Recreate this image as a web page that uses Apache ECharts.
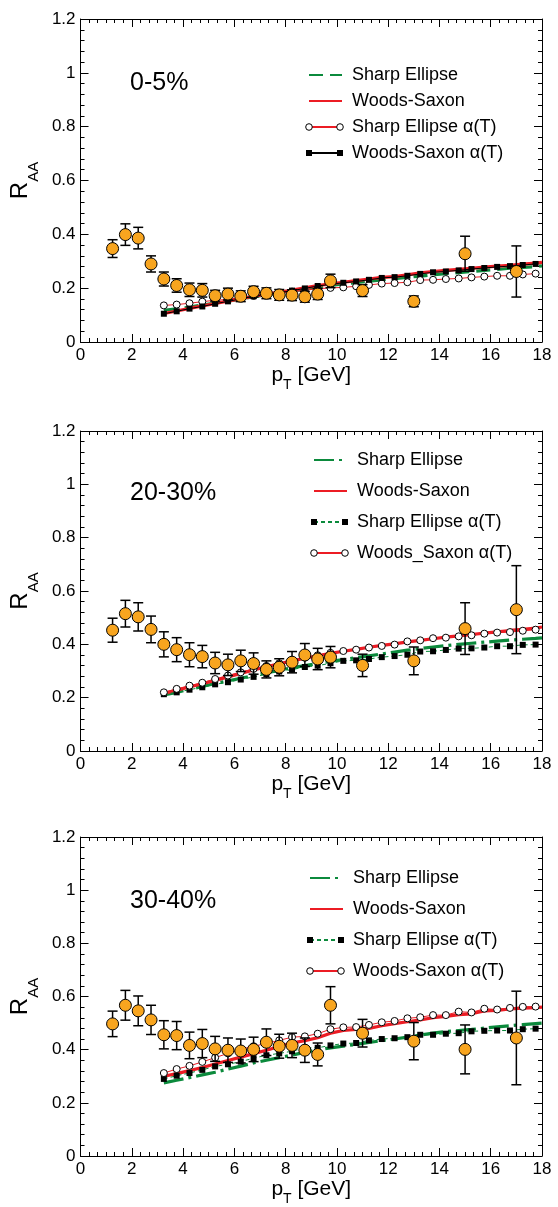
<!DOCTYPE html>
<html><head><meta charset="utf-8">
<script src="https://cdn.jsdelivr.net/npm/echarts@6/dist/echarts.min.js"></script>
<style>html,body{margin:0;padding:0;background:#fff}#c{width:558px;height:1207px}</style>
</head><body><div id="c"></div>
<script>
// ---------- data ----------
const ptData = [1.25,1.75,2.25,2.75,3.25,3.75,4.25,4.75,5.25,5.75,6.25,6.75,7.25,7.75,8.25,8.75,9.25,9.75,11,13,15,17];
const ptModel = [3.25,3.75,4.25,4.75,5.25,5.75,6.25,6.75,7.25,7.75,8.25,8.75,9.25,9.75,10.25,10.75,11.25,11.75,12.25,12.75,13.25,13.75,14.25,14.75,15.25,15.75,16.25,16.75,17.25,17.75];
const ptCurve = [3.25,3.75,4.25,4.75,5.25,5.75,6.25,6.75,7.25,7.75,8.25,8.75,9.25,9.75,10.25,10.75,11.25,11.75,12.25,12.75,13.25,13.75,14.25,14.75,15.25,15.75,16.25,16.75,17.25,17.75,18];
const yTicks = [0,0.2,0.4,0.6,0.8,1,1.2];
const xTicks = [0,2,4,6,8,10,12,14,16,18];

// 0-5%
const raa0005 = [0.347,0.399,0.386,0.29,0.234,0.21,0.194,0.192,0.172,0.178,0.17,0.187,0.181,0.175,0.174,0.168,0.178,0.227,0.191,0.151,0.328,0.262];
const err0005 = [0.033,0.04,0.04,0.03,0.026,0.025,0.025,0.025,0.02,0.022,0.02,0.02,0.02,0.02,0.02,0.02,0.02,0.025,0.022,0.02,0.065,0.095];
const se0005 = [0.118,0.123,0.13,0.137,0.145,0.152,0.16,0.168,0.175,0.182,0.189,0.197,0.204,0.21,0.216,0.221,0.226,0.231,0.235,0.24,0.245,0.25,0.254,0.258,0.262,0.266,0.27,0.274,0.277,0.28,0.283];
const ws0005 = [0.106,0.115,0.125,0.134,0.143,0.152,0.161,0.17,0.178,0.185,0.193,0.201,0.21,0.216,0.222,0.228,0.234,0.24,0.243,0.25,0.257,0.262,0.266,0.27,0.274,0.278,0.282,0.285,0.289,0.293,0.296];
const seAlpha0005 = [0.136,0.139,0.144,0.15,0.155,0.158,0.165,0.171,0.176,0.181,0.187,0.192,0.198,0.201,0.203,0.207,0.212,0.217,0.219,0.222,0.23,0.231,0.234,0.236,0.24,0.243,0.246,0.246,0.251,0.254];
const wsAlpha0005 = [0.105,0.114,0.124,0.132,0.142,0.151,0.16,0.17,0.177,0.183,0.191,0.199,0.208,0.214,0.22,0.225,0.231,0.238,0.241,0.246,0.253,0.259,0.262,0.266,0.271,0.275,0.279,0.282,0.286,0.29];

// 20-30%
const raa2030 = [0.453,0.515,0.503,0.456,0.4,0.38,0.361,0.354,0.33,0.323,0.338,0.328,0.306,0.314,0.333,0.36,0.345,0.352,0.321,0.338,0.459,0.53];
const err2030 = [0.045,0.05,0.053,0.05,0.047,0.045,0.045,0.042,0.04,0.04,0.04,0.04,0.032,0.032,0.04,0.043,0.04,0.04,0.042,0.052,0.097,0.165];
const se2030 = [0.21,0.22,0.231,0.242,0.253,0.263,0.273,0.283,0.293,0.303,0.312,0.32,0.328,0.336,0.343,0.35,0.357,0.364,0.371,0.378,0.384,0.39,0.395,0.4,0.404,0.408,0.412,0.416,0.419,0.422,0.424];
const ws2030 = [0.216,0.228,0.24,0.252,0.265,0.278,0.291,0.304,0.316,0.327,0.338,0.348,0.357,0.366,0.374,0.381,0.389,0.396,0.402,0.409,0.415,0.421,0.427,0.432,0.437,0.442,0.447,0.452,0.456,0.461,0.465];
const seAlpha2030 = [0.213,0.22,0.23,0.239,0.25,0.258,0.268,0.278,0.288,0.298,0.305,0.315,0.32,0.329,0.338,0.34,0.345,0.352,0.356,0.361,0.373,0.374,0.379,0.384,0.385,0.388,0.393,0.393,0.398,0.399];
const wsAlpha2030 = [0.22,0.233,0.245,0.256,0.27,0.283,0.295,0.308,0.319,0.329,0.34,0.35,0.359,0.368,0.375,0.38,0.388,0.394,0.399,0.411,0.415,0.423,0.425,0.43,0.434,0.44,0.444,0.446,0.451,0.455];

// 30-40%
const raa3040 = [0.497,0.567,0.546,0.512,0.456,0.453,0.416,0.423,0.403,0.398,0.395,0.401,0.428,0.413,0.416,0.398,0.382,0.567,0.462,0.432,0.401,0.444];
const err3040 = [0.048,0.056,0.056,0.055,0.053,0.053,0.05,0.053,0.047,0.046,0.045,0.046,0.05,0.045,0.046,0.046,0.043,0.07,0.052,0.07,0.092,0.176];
const se3040 = [0.275,0.285,0.295,0.305,0.315,0.327,0.338,0.35,0.36,0.37,0.38,0.39,0.399,0.407,0.413,0.42,0.427,0.434,0.44,0.447,0.455,0.462,0.468,0.472,0.476,0.481,0.486,0.49,0.494,0.498,0.5];
const ws3040 = [0.3,0.31,0.321,0.333,0.346,0.359,0.372,0.385,0.398,0.412,0.425,0.434,0.445,0.462,0.472,0.476,0.48,0.49,0.498,0.505,0.512,0.52,0.525,0.532,0.535,0.546,0.548,0.553,0.556,0.558,0.56];
const seAlpha3040 = [0.29,0.302,0.312,0.324,0.337,0.345,0.355,0.368,0.379,0.386,0.394,0.407,0.407,0.416,0.423,0.425,0.435,0.44,0.443,0.447,0.456,0.456,0.46,0.462,0.469,0.471,0.472,0.472,0.477,0.479];
const wsAlpha3040 = [0.312,0.327,0.339,0.354,0.37,0.386,0.401,0.413,0.423,0.435,0.447,0.45,0.46,0.477,0.484,0.485,0.493,0.503,0.508,0.518,0.522,0.53,0.53,0.543,0.54,0.554,0.551,0.557,0.561,0.562];

const centralityLabels = ['0-5%','20-30%','30-40%'];

// ---------- style / layout ----------
const FONT = 'Liberation Sans';
const RED = '#ec1c24';
const GREEN = '#0b8a3c';
const ORANGE = '#f8a51f';

const zip = (xs, ys) => ys.map((y, i) => [xs[i], y]);

const panels = [
  {k:'a', top:19, height:323, labelTop:71, legTop:66, legLeft:308, legGap:8,
   raa:raa0005, err:err0005, se:se0005, ws:ws0005,
   seDash:[14,7],
   alpha:[
     {name:'Sharp Ellipse α(T)', data:seAlpha0005, sym:'circle', line:RED, dash:'solid'},
     {name:'Woods-Saxon α(T)', data:wsAlpha0005, sym:'rect', line:'#000', dash:'solid'}
   ]},
  {k:'b', top:431, height:320, labelTop:481, legTop:451, legLeft:313, legGap:13,
   raa:raa2030, err:err2030, se:se2030, ws:ws2030,
   seDash:[20,5,3,5],
   alpha:[
     {name:'Sharp Ellipse α(T)', data:seAlpha2030, sym:'rect', line:GREEN, dash:[4,3]},
     {name:'Woods_Saxon α(T)', data:wsAlpha2030, sym:'circle', line:RED, dash:'solid'}
   ]},
  {k:'c', top:837, height:325, labelTop:889, legTop:869, legLeft:309, legGap:13,
   raa:raa3040, err:err3040, se:se3040, ws:ws3040,
   seDash:[20,5,3,5],
   alpha:[
     {name:'Sharp Ellipse α(T)', data:seAlpha3040, sym:'rect', line:GREEN, dash:[4,3]},
     {name:'Woods-Saxon α(T)', data:wsAlpha3040, sym:'circle', line:RED, dash:'solid'}
   ]}
];

const grid = [], xAxis = [], yAxis = [], series = [], legend = [], title = [], graphic = [];
const ICON_W = 33, TEXT_H = 18;

function tickStyle(split) {
  return {
    axisLine: {show: true, onZero: false, lineStyle: {color: '#000', width: 1}},
    axisTick: {show: true, inside: true, length: 8, lineStyle: {color: '#000', width: 1}},
    minorTick: {show: true, splitNumber: split, length: 4, lineStyle: {color: '#000', width: 1}},
    splitLine: {show: false},
    minorSplitLine: {show: false}
  };
}

panels.forEach((p, i) => {
  grid.push({left: 77, width: 465, top: p.top, height: p.height});
  const xBase = Object.assign({type: 'value', gridIndex: i, min: xTicks[0], max: xTicks[xTicks.length - 1], interval: 2}, tickStyle(6));
  const yBase = Object.assign({type: 'value', gridIndex: i, min: yTicks[0], max: yTicks[yTicks.length - 1], interval: 0.2}, tickStyle(5));
  xAxis.push(Object.assign({}, xBase, {
    position: 'bottom',
    axisLabel: {show: true, margin: 5, fontSize: 17, fontFamily: FONT, color: '#000'},
    name: '{a|p}{b|T}{a| [GeV]}', nameLocation: 'middle', nameGap: 23,
    nameTextStyle: {rich: {
      a: {fontSize: 21, fontFamily: FONT, color: '#000', verticalAlign: 'top'},
      b: {fontSize: 14, fontFamily: FONT, color: '#000', verticalAlign: 'bottom', padding: [13, 0, 0, 0]}
    }}
  }));
  xAxis.push(Object.assign({}, xBase, {position: 'top', axisLabel: {show: false}}));
  yAxis.push(Object.assign({}, yBase, {
    position: 'left',
    axisLabel: {show: true, margin: 5, fontSize: 17, fontFamily: FONT, color: '#000'},
    name: '{r|R}{s|AA}', nameLocation: 'middle', nameGap: 29, nameRotate: 90,
    nameTextStyle: {rich: {
      r: {fontSize: 24, fontFamily: FONT, color: '#000', verticalAlign: 'top'},
      s: {fontSize: 15, fontFamily: FONT, color: '#000', verticalAlign: 'bottom', padding: [18, 0, 0, 0]}
    }}
  }));
  yAxis.push(Object.assign({}, yBase, {position: 'right', axisLabel: {show: false}}));

  const xi = 2 * i, yi = 2 * i;
  const nSE = p.k + '_Sharp Ellipse', nWS = p.k + '_Woods-Saxon';
  series.push({
    name: nSE, type: 'line', xAxisIndex: xi, yAxisIndex: yi, data: zip(ptCurve, p.se),
    symbol: 'none', itemStyle: {color: GREEN, opacity: 0},
    lineStyle: {color: GREEN, width: 3.2, type: p.seDash}, z: 2, silent: true
  });
  series.push({
    name: nWS, type: 'line', xAxisIndex: xi, yAxisIndex: yi, data: zip(ptCurve, p.ws),
    symbol: 'none', itemStyle: {color: RED, opacity: 0},
    lineStyle: {color: RED, width: 3.2, type: 'solid'}, z: 3, silent: true
  });
  const legData = [{name: nSE}, {name: nWS}];
  p.alpha.forEach((a, r) => {
    const nm = p.k + '_' + a.name;
    legData.push({name: nm, itemStyle: {opacity: 0}});
    series.push({
      name: nm, type: 'line', xAxisIndex: xi, yAxisIndex: yi, data: zip(ptModel, a.data),
      symbol: a.sym, symbolSize: a.sym === 'rect' ? 6 : 7, showSymbol: true,
      itemStyle: a.sym === 'rect' ? {color: '#000'} : {color: '#fff', borderColor: '#000', borderWidth: 1},
      lineStyle: {color: a.line, width: 1, type: a.dash}, z: 4, silent: true
    });
    // legend end markers (ROOT style: marker at both ends of the sample line)
    const cy = p.legTop + TEXT_H / 2 + (r + 2) * (TEXT_H + p.legGap);
    [p.legLeft + 1, p.legLeft + ICON_W - 1].forEach(cx => {
      if (a.sym === 'rect') {
        graphic.push({type: 'rect', shape: {x: cx - 3, y: cy - 3, width: 6, height: 6}, style: {fill: '#000'}, z: 100, silent: true});
      } else {
        graphic.push({type: 'circle', shape: {cx: cx, cy: cy, r: 3.3}, style: {fill: '#fff', stroke: '#000', lineWidth: 1}, z: 100, silent: true});
      }
    });
  });
  series.push({
    type: 'custom', xAxisIndex: xi, yAxisIndex: yi, z: 5, silent: true,
    data: ptData.map((x, j) => [x, p.raa[j], p.err[j]]),
    encode: {x: 0, y: 1},
    renderItem: function (params, api) {
      const x = api.value(0), y = api.value(1), e = api.value(2);
      const t = api.coord([x, y + e]), b = api.coord([x, y - e]);
      const w = 5;
      const st = {stroke: '#000', lineWidth: 1.5};
      return {type: 'group', children: [
        {type: 'line', shape: {x1: t[0], y1: t[1], x2: b[0], y2: b[1]}, style: st},
        {type: 'line', shape: {x1: t[0] - w, y1: t[1], x2: t[0] + w, y2: t[1]}, style: st},
        {type: 'line', shape: {x1: b[0] - w, y1: b[1], x2: b[0] + w, y2: b[1]}, style: st}
      ]};
    }
  });
  series.push({
    type: 'scatter', xAxisIndex: xi, yAxisIndex: yi, z: 6, silent: true,
    data: zip(ptData, p.raa), symbol: 'circle', symbolSize: 12,
    itemStyle: {color: ORANGE, borderColor: '#000', borderWidth: 1, opacity: 1}
  });

  legend.push({
    show: true, orient: 'vertical', left: p.legLeft, top: p.legTop, padding: 0,
    itemGap: p.legGap, itemWidth: ICON_W, itemHeight: 9, selectedMode: false,
    data: legData,
    formatter: n => n.slice(2),
    textStyle: {fontSize: 18, fontFamily: FONT, color: '#000', padding: [0, 0, 0, 5]}
  });
  title.push({
    text: centralityLabels[i], left: 130, top: p.labelTop, padding: 0,
    textStyle: {fontSize: 25, fontWeight: 'normal', fontFamily: FONT, color: '#000'}
  });
});

const chart = echarts.init(document.getElementById('c'), null, {renderer: 'canvas'});
chart.setOption({
  animation: false,
  backgroundColor: '#fff',
  title, legend, grid, xAxis, yAxis, series, graphic
});
</script>
</body></html>
